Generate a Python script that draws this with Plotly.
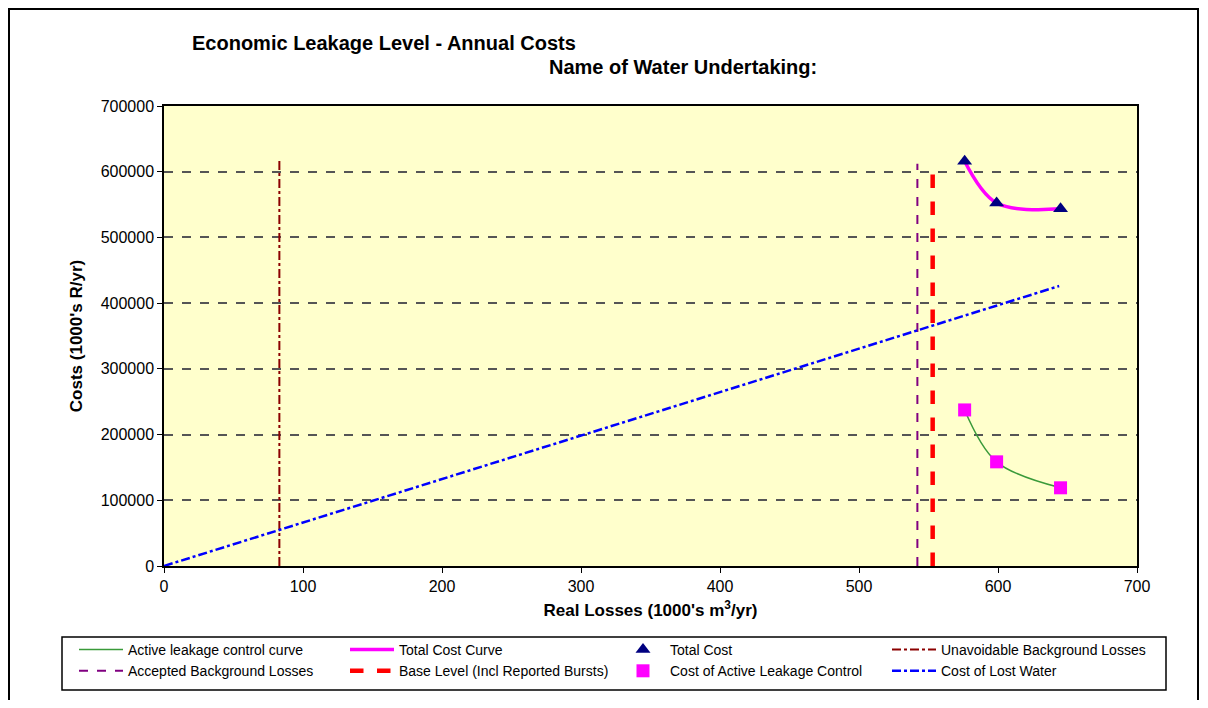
import plotly.graph_objects as go

# Data
opt_losses = [576, 599, 645]
total_cost = [616000, 552500, 543500]
alc_cost = [237500, 158500, 119000]

unavoidable_x = [83, 83]
unavoidable_y = [0, 620000]
accepted_x = [542, 542]
accepted_y = [0, 612000]
base_x = [553, 553]
base_y = [0, 616000]
lost_water_x = [0, 644]
lost_water_y = [0, 426000]

FONT = "Liberation Sans, Arial, sans-serif"

# page has an 8px body margin, so the figure is 16px smaller than the window
W, H = 1192, 692
L, T, PW, PH = 156, 98, 973, 460


# helpers to place things by page pixel (reference coords)
def px(x):
    return (x - 164) / PW


def py(y):
    return (566 - y) / PH


fig = go.Figure()

# Row 1 of legend
fig.add_trace(go.Scatter(x=opt_losses, y=alc_cost, mode="lines", line=dict(color="#3a9a3a", width=1.5, shape="spline"),
                         name="Active leakage control curve"))
fig.add_trace(go.Scatter(x=opt_losses, y=total_cost, mode="lines", line=dict(color="#ff00ff", width=3.5, shape="spline"),
                         name="Total Cost Curve"))
fig.add_trace(go.Scatter(x=opt_losses, y=total_cost, mode="markers",
                         marker=dict(symbol="triangle-up", color="#000080", size=13),
                         name="Total Cost"))
fig.add_trace(go.Scatter(x=unavoidable_x, y=unavoidable_y, mode="lines", line=dict(color="#8b0000", width=2, dash="dashdot"),
                         name="Unavoidable Background Losses"))
# Row 2 of legend
fig.add_trace(go.Scatter(x=accepted_x, y=accepted_y, mode="lines", line=dict(color="#800080", width=2, dash="dash"),
                         name="Accepted Background Losses"))
fig.add_trace(go.Scatter(x=base_x, y=base_y, mode="lines", line=dict(color="#ff0000", width=4.5, dash="dash"),
                         name="Base Level (Incl Reported Bursts)"))
fig.add_trace(go.Scatter(x=opt_losses, y=alc_cost, mode="markers",
                         marker=dict(symbol="square", color="#ff00ff", size=13),
                         name="Cost of Active Leakage Control"))
fig.add_trace(go.Scatter(x=lost_water_x, y=lost_water_y, mode="lines", line=dict(color="#0000ff", width=2.5, dash="dashdot"),
                         name="Cost of Lost Water"))

fig.update_layout(
    width=W, height=H,
    margin=dict(l=L, r=W - L - PW, t=T, b=H - T - PH, autoexpand=False),
    paper_bgcolor="white",
    plot_bgcolor="#ffffcc",
    font=dict(family=FONT, color="black", size=15),
    showlegend=True,
    legend=dict(orientation="h", x=px(74), y=py(634), xanchor="left", yanchor="top",
                borderwidth=0, bgcolor="rgba(0,0,0,0)",
                entrywidth=212, entrywidthmode="pixels",
                font=dict(size=14), itemwidth=44),
)

fig.update_xaxes(range=[0, 700], dtick=100, showgrid=False, zeroline=False,
                 showline=True, linecolor="black", linewidth=1.5, mirror=True,
                 ticks="outside", ticklen=5, tickcolor="black",
                 tickfont=dict(size=16),
                 title=dict(text="<b>Real Losses (1000's m<sup>3</sup>/yr)</b>", font=dict(size=17), standoff=10))
fig.update_yaxes(range=[0, 700000], dtick=100000, tickformat="d", showgrid=True, gridcolor="#555555", gridwidth=1.5,
                 griddash="dash", zeroline=False,
                 showline=True, linecolor="black", linewidth=1.5, mirror=True,
                 ticks="outside", ticklen=5, tickcolor="black",
                 tickfont=dict(size=16),
                 title=dict(text="<b>Costs (1000's R/yr)</b>", font=dict(size=17), standoff=14))

fig.add_annotation(text="<b>Economic Leakage Level - Annual Costs</b>", xref="paper", yref="paper",
                   x=px(190), y=py(43), xanchor="left", yanchor="middle",
                   showarrow=False, font=dict(size=20))
fig.add_annotation(text="<b>Name of Water Undertaking:</b>", xref="paper", yref="paper",
                   x=px(547), y=py(67), xanchor="left", yanchor="middle",
                   showarrow=False, font=dict(size=20))

# legend box
fig.add_shape(type="rect", xref="paper", yref="paper",
              x0=px(62), x1=px(1166), y0=py(690), y1=py(637),
              line=dict(color="black", width=1.5), layer="below")
# outer chart frame
fig.add_shape(type="rect", xref="paper", yref="paper",
              x0=px(9), x1=px(1198), y0=py(760), y1=py(9),
              line=dict(color="black", width=2), layer="below")

fig.write_html("out.html")
